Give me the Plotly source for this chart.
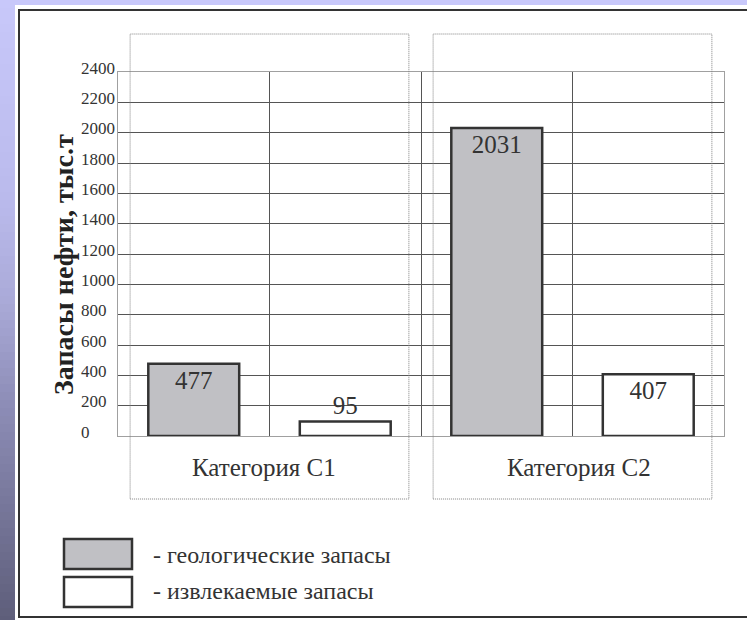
import plotly.graph_objects as go

# ---- data ----
categories = ["Категория С1", "Категория С2"]
geo_name = "- геологические запасы"
rec_name = "- извлекаемые запасы"
geo_values = [477, 2031]
rec_values = [95, 407]
y_ticks = [0, 200, 400, 600, 800, 1000, 1200, 1400, 1600, 1800, 2000, 2200, 2400]
y_title = "Запасы нефти, тыс.т"

# ---- layout geometry ----
W, H = 747, 620
ML, MR, MT, MB = 118, 23, 72, 184
PW, PH = W - ML - MR, H - MT - MB
FONT = "Liberation Serif"
TXT = "#333333"


def px(x):
    return (x - ML) / PW


def py(y):
    return (H - MB - y) / PH


n = len(categories)
geo_x = [2 * i + 0.5 for i in range(n)]
rec_x = [2 * i + 1.5 for i in range(n)]
cat_x = [2 * i + 1 for i in range(n)]
cat_shift = [-6, 6]
XMAX = 2 * n

fig = go.Figure()
for xs, vals, name, fill in [(geo_x, geo_values, geo_name, "#c0c0c4"),
                             (rec_x, rec_values, rec_name, "#ffffff")]:
    fig.add_trace(go.Bar(
        x=xs, y=vals, name=name, width=0.6,
        marker=dict(color=fill, line=dict(color="#333333", width=2.5)),
        text=[str(v) for v in vals], textposition="auto",
        insidetextanchor="end",
        textfont=dict(family=FONT, size=25, color=TXT),
        insidetextfont=dict(family=FONT, size=25, color=TXT),
        outsidetextfont=dict(family=FONT, size=25, color=TXT),
        cliponaxis=False, showlegend=False,
    ))

shapes = []
# white panel
shapes.append(dict(type="rect", xref="paper", yref="paper", layer="below",
                   x0=px(15), x1=px(W + 5), y0=py(5), y1=py(H + 5),
                   fillcolor="white", line=dict(width=0)))
# left gradient strip
stops = [(0, (200, 200, 250)), (200, (186, 186, 236)), (300, (170, 170, 216)),
         (400, (142, 142, 184)), (620, (94, 94, 122))]


def col_at(y):
    for (y0, c0), (y1, c1) in zip(stops[:-1], stops[1:]):
        if y0 <= y <= y1:
            t = (y - y0) / (y1 - y0)
            return "rgb(%d,%d,%d)" % tuple(round(a + (b - a) * t) for a, b in zip(c0, c1))
    return "rgb(%d,%d,%d)" % stops[-1][1]


step = 8
for yy in range(0, H, step):
    shapes.append(dict(type="rect", xref="paper", yref="paper", layer="below",
                       x0=px(-2), x1=px(15), y0=py(yy), y1=py(yy + step + 1),
                       fillcolor=col_at(yy + step / 2), line=dict(width=0)))
# dark panel border
shapes.append(dict(type="rect", xref="paper", yref="paper", layer="below",
                   x0=px(19), x1=px(W + 20), y0=py(10), y1=py(617),
                   fillcolor="rgba(0,0,0,0)", line=dict(color="#333333", width=2)))
# dotted category boxes
for c in cat_x:
    shapes.append(dict(type="rect", xref="paper", yref="paper",
                       x0=(c - 0.92) / XMAX, x1=(c + 0.92) / XMAX,
                       y0=py(499), y1=py(34),
                       line=dict(color="#808080", width=1, dash="1px,1px")))
# legend boxes
shapes.append(dict(type="rect", xref="paper", yref="paper",
                   x0=px(64), x1=px(132), y0=py(569), y1=py(539),
                   fillcolor="#c0c0c4", line=dict(color="#333333", width=2.5)))
shapes.append(dict(type="rect", xref="paper", yref="paper",
                   x0=px(64), x1=px(132), y0=py(607), y1=py(577),
                   fillcolor="#ffffff", line=dict(color="#333333", width=2.5)))

annotations = []
for v in y_ticks:
    annotations.append(dict(x=px(79), xref="paper", y=v, yref="y", text=str(v),
                            showarrow=False, xanchor="left", yanchor="middle", yshift=4,
                            font=dict(family=FONT, size=17, color=TXT)))
for c, name, sh in zip(cat_x, categories, cat_shift):
    annotations.append(dict(x=c / XMAX, xref="paper", y=py(468), yref="paper", text=name,
                            showarrow=False, xanchor="center", yanchor="middle", xshift=sh,
                            font=dict(family=FONT, size=25, color=TXT)))
annotations.append(dict(x=px(63), xref="paper", y=py(265), yref="paper", text="<b>" + y_title + "</b>",
                        textangle=-90, showarrow=False, xanchor="center", yanchor="middle",
                        font=dict(family=FONT, size=28, color="#222222")))
annotations.append(dict(x=px(151), xref="paper", y=py(555), yref="paper", text=geo_name,
                        showarrow=False, xanchor="left", yanchor="middle",
                        font=dict(family=FONT, size=24, color=TXT)))
annotations.append(dict(x=px(151), xref="paper", y=py(591), yref="paper", text=rec_name,
                        showarrow=False, xanchor="left", yanchor="middle",
                        font=dict(family=FONT, size=24, color=TXT)))

fig.update_layout(
    width=W, height=H,
    margin=dict(l=ML, r=MR, t=MT, b=MB, pad=0),
    paper_bgcolor="rgb(200,200,250)",
    plot_bgcolor="rgba(0,0,0,0)",
    barmode="overlay",
    showlegend=False,
    font=dict(family=FONT),
    shapes=shapes,
    annotations=annotations,
    xaxis=dict(range=[0, XMAX], tickvals=cat_x + [c - 1 for c in cat_x[1:]],
               showticklabels=False, ticks="", showgrid=True, gridcolor="#555555", gridwidth=1,
               zeroline=False, showline=True, mirror=True, linecolor="#a0a0a0", linewidth=1,
               fixedrange=True),
    yaxis=dict(range=[0, y_ticks[-1]], tickvals=y_ticks[1:-1], showticklabels=False, ticks="",
               showgrid=True, gridcolor="#555555", gridwidth=1,
               zeroline=False, showline=True, mirror=True, linecolor="#a0a0a0", linewidth=1,
               fixedrange=True),
)

fig.write_html("out.html", config={"displayModeBar": False},
               post_script="document.body.style.margin='0';document.body.style.overflow='hidden';")
